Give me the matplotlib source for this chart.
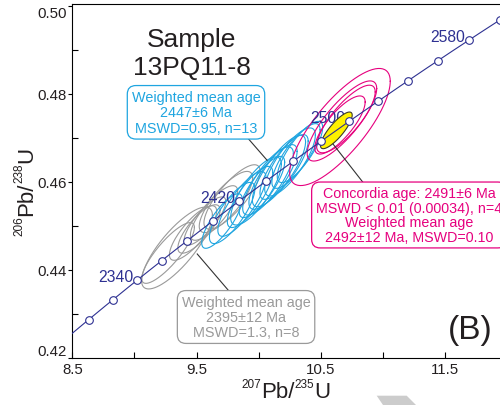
import numpy as np
import matplotlib
matplotlib.use("Agg")
import matplotlib.pyplot as plt
from matplotlib.patches import Polygon
from matplotlib.ticker import FixedLocator

plt.rcParams["font.family"] = ["Liberation Sans", "DejaVu Sans"]

# decay constants (1/yr)
L238 = 1.55125e-10
L235 = 9.8485e-10

# concordia age marks (Ma)
tick_ages = [2300, 2320, 2340, 2360, 2380, 2400, 2420, 2440, 2460,
             2480, 2500, 2520, 2540, 2560, 2580, 2600]
label_ages = [2340, 2420, 2500, 2580]

# spot analyses: 207Pb/235U, 206Pb/238U, ellipse half-widths, rho
gray_x = [9.343, 9.271, 9.472, 9.520, 9.568, 9.641, 9.737, 9.786]
gray_sx = [0.285, 0.212, 0.190, 0.170, 0.168, 0.190, 0.215, 0.226]
gray_y = [0.44498, 0.44385, 0.44839, 0.44930, 0.45111, 0.45293, 0.45543, 0.45657]
gray_sy = [0.00930, 0.00690, 0.00620, 0.00550, 0.00548, 0.00620, 0.00695, 0.00732]
gray_rho = [0.80, 0.84, 0.80, 0.78, 0.81, 0.80, 0.79, 0.80]

blue_x = [9.705, 9.787, 9.866, 9.931, 9.979, 10.027, 10.076,
          10.116, 10.164, 10.205, 10.253, 10.301, 10.333]
blue_sx = [0.163, 0.183, 0.194, 0.183, 0.204, 0.183, 0.204,
           0.194, 0.214, 0.194, 0.204, 0.194, 0.183]
blue_y = [0.45111, 0.45293, 0.45498, 0.45657, 0.45793, 0.45884, 0.46020,
          0.46111, 0.46247, 0.46338, 0.46452, 0.46588, 0.46679]
blue_sy = [0.00620, 0.00695, 0.00735, 0.00695, 0.00773, 0.00695, 0.00773,
           0.00735, 0.00812, 0.00735, 0.00773, 0.00735, 0.00695]
blue_rho = [0.80, 0.79, 0.81, 0.80, 0.78, 0.81, 0.80,
            0.79, 0.81, 0.80, 0.79, 0.81, 0.80]

pink_x = [10.655, 10.671, 10.703, 10.655]
pink_sx = [0.405, 0.280, 0.236, 0.203]
pink_y = [0.47246, 0.47383, 0.47428, 0.47292]
pink_sy = [0.01330, 0.00910, 0.00768, 0.00660]
pink_rho = [0.78, 0.81, 0.80, 0.79]

# concordia age ellipse
cc_x, cc_sx = 10.626, 0.1275
cc_y, cc_sy = 0.4717, 0.00416
cc_rho = 0.83

NAVY = "#2e3192"
GRAY = "#9a9a9a"
BLUE = "#1fa5e0"
PINK = "#e6007e"
DARK = "#231f20"


def concordia(t_ma):
    t = np.asarray(t_ma, dtype=float) * 1e6
    return np.exp(L235 * t) - 1, np.exp(L238 * t) - 1


def error_ellipse(x, sx, y, sy, rho, n=160):
    cov = np.array([[sx**2, rho * sx * sy], [rho * sx * sy, sy**2]])
    chol = np.linalg.cholesky(cov)
    t = np.linspace(0, 2 * np.pi, n)
    pts = chol @ np.vstack([np.cos(t), np.sin(t)])
    return x + pts[0], y + pts[1]


def draw_group(ax, xs, sxs, ys, sys_, rhos, color):
    for x, sx, y, sy, r in zip(xs, sxs, ys, sys_, rhos):
        ex, ey = error_ellipse(x, sx, y, sy, r)
        ax.plot(ex, ey, color=color, lw=0.8, zorder=2)


def ax_annot(fig, s, xy, ref, size, **kw):
    return fig.axes[0].annotate(s, xy=xy, xycoords=ref, fontsize=size,
                                annotation_clip=False, **kw)


def iso_label(fig, x, y, parts, vertical=False, big=16, small=8.5):
    """Write e.g. 207Pb/235U with small raised mass numbers, piece by piece."""
    kw = dict(color=DARK, rotation=90 if vertical else 0)
    prev_big = None
    for sup, body in parts:
        if prev_big is None:
            # first body anchors the whole label
            if vertical:
                body_t = fig.text(x, y, body, fontsize=big, ha="right",
                                  va="bottom", **kw)
                ax_annot(fig, sup, (0.44, 0), body_t, small,
                         ha="right", va="top", **kw)
            else:
                body_t = fig.text(x, y, body, fontsize=big, ha="left",
                                  va="baseline", **kw)
                ax_annot(fig, sup, (0, 0.55), body_t, small,
                         ha="right", va="bottom", **kw)
        else:
            if vertical:
                sup_t = ax_annot(fig, sup, (0.44, 1), prev_big, small,
                                 ha="right", va="bottom", **kw)
                body_t = ax_annot(fig, body, (1, 1), (prev_big, sup_t), big,
                                  ha="right", va="bottom", **kw)
            else:
                sup_t = ax_annot(fig, sup, (1, 0.55), prev_big, small,
                                 ha="left", va="bottom", **kw)
                body_t = ax_annot(fig, body, (1, 0), (sup_t, prev_big), big,
                                  ha="left", va="bottom", **kw)
        prev_big = body_t


fig = plt.figure(figsize=(5, 4.06), dpi=100)
ax = fig.add_axes([0.1446, 0.1158, 0.8694, 0.8719])

draw_group(ax, gray_x, gray_sx, gray_y, gray_sy, gray_rho, GRAY)
draw_group(ax, blue_x, blue_sx, blue_y, blue_sy, blue_rho, BLUE)
draw_group(ax, pink_x, pink_sx, pink_y, pink_sy, pink_rho, PINK)

ex, ey = error_ellipse(cc_x, cc_sx, cc_y, cc_sy, cc_rho)
ax.fill(ex, ey, facecolor="#fff200", edgecolor="#3a3a2a", lw=0.8, zorder=3)

# concordia curve with age marks
t_line = np.linspace(2200, 2700, 400)
cx, cy = concordia(t_line)
ax.plot(cx, cy, color=NAVY, lw=0.8, zorder=4)
mx, my = concordia(tick_ages)
ax.plot(mx, my, "o", ms=5.5, mfc="white", mec=NAVY, mew=0.8, zorder=5)
lx, ly = concordia(label_ages)
for age, x, y in zip(label_ages, lx, ly):
    ax.annotate(str(age), (x, y), xytext=(-2.5, 3), textcoords="offset points",
                ha="right", va="center", fontsize=11.3, color=NAVY, zorder=2.9)

# leader lines
ax.plot([9.904, 10.068], [0.47023, 0.46492], color="#333333", lw=0.8, zorder=4)
ax.plot([10.599, 10.857], [0.46860, 0.45929], color="#333333", lw=0.8, zorder=4)
ax.plot([9.506, 9.770], [0.44362, 0.43492], color="#333333", lw=0.8, zorder=4)

box = dict(boxstyle="round,pad=0.3,rounding_size=0.6", facecolor="white", lw=0.9)
ax.text(9.496, 0.4758, "Weighted mean age\n2447\u00b16 Ma\nMSWD=0.95, n=13",
        ha="center", va="center", fontsize=10.4, color=BLUE, linespacing=1.13,
        bbox=dict(box, edgecolor=BLUE), zorder=7)
ax.text(11.211, 0.45248,
        "Concordia age: 2491\u00b16 Ma\nMSWD < 0.01 (0.00034), n=4\n"
        "Weighted mean age\n2492\u00b112 Ma, MSWD=0.10",
        ha="center", va="center", fontsize=10.3, color=PINK, linespacing=1.04,
        bbox=dict(box, edgecolor=PINK), zorder=7, clip_on=False)
ax.text(9.899, 0.42931, "Weighted mean age\n2395\u00b112 Ma\nMSWD=1.3, n=8",
        ha="center", va="center", fontsize=10.4, color=GRAY, linespacing=1.1,
        bbox=dict(box, edgecolor=GRAY), zorder=7)

ax.text(0.2754, 0.862, "Sample\n13PQ11-8", transform=ax.transAxes,
        ha="center", va="center", fontsize=19, color=DARK, linespacing=1.2)
ax.text(470 / 500, 1 - 331 / 406, "(B)", transform=fig.transFigure,
        ha="center", va="center", fontsize=24, color=DARK)

ax.set_xlim(8.5, 12.0)
ax.set_ylim(0.42, 0.5004)
ax.xaxis.set_major_locator(FixedLocator([8.5, 9.5, 10.5, 11.5]))
ax.xaxis.set_minor_locator(FixedLocator([9.0, 10.0, 11.0]))
ax.yaxis.set_major_locator(FixedLocator([0.42, 0.44, 0.46, 0.48, 0.50]))
ax.yaxis.set_minor_locator(FixedLocator([0.43, 0.45, 0.47, 0.49]))
ax.xaxis.set_major_formatter(plt.FuncFormatter(lambda v, p: f"{v:.1f}"))
ax.yaxis.set_major_formatter(plt.FuncFormatter(lambda v, p: f"{v:.2f}"))
ax.tick_params(axis="x", which="both", direction="in", length=4, width=0.8,
               pad=3, labelsize=10.8, labelcolor=DARK)
ax.tick_params(axis="y", which="major", direction="out", length=3, width=0.8,
               pad=1, labelsize=10.8, labelcolor=DARK)
ax.tick_params(axis="y", which="minor", direction="in", length=4, width=0.8)
for sp in ax.spines.values():
    sp.set_linewidth(0.8)

yt = ax.yaxis.get_major_ticks()
yt[0].label1.set_va("bottom")
yt[-1].label1.set_va("top")

# axis titles
iso_label(fig, 261 / 500, 1 - 397.7 / 406, [("207", "Pb/"), ("235", "U")])
iso_label(fig, 37.5 / 500, 1 - 216 / 406, [("206", "Pb/"), ("238", "U")],
          vertical=True)

fig.patches.append(Polygon([[376.7 / 500, 9.3 / 406], [406.7 / 500, 9.3 / 406],
                            [416 / 500, 0.0], [383 / 500, 0.0]],
                           closed=True, transform=fig.transFigure,
                           facecolor="#cccccc", edgecolor="none"))

fig.savefig("out.png", dpi=100)
